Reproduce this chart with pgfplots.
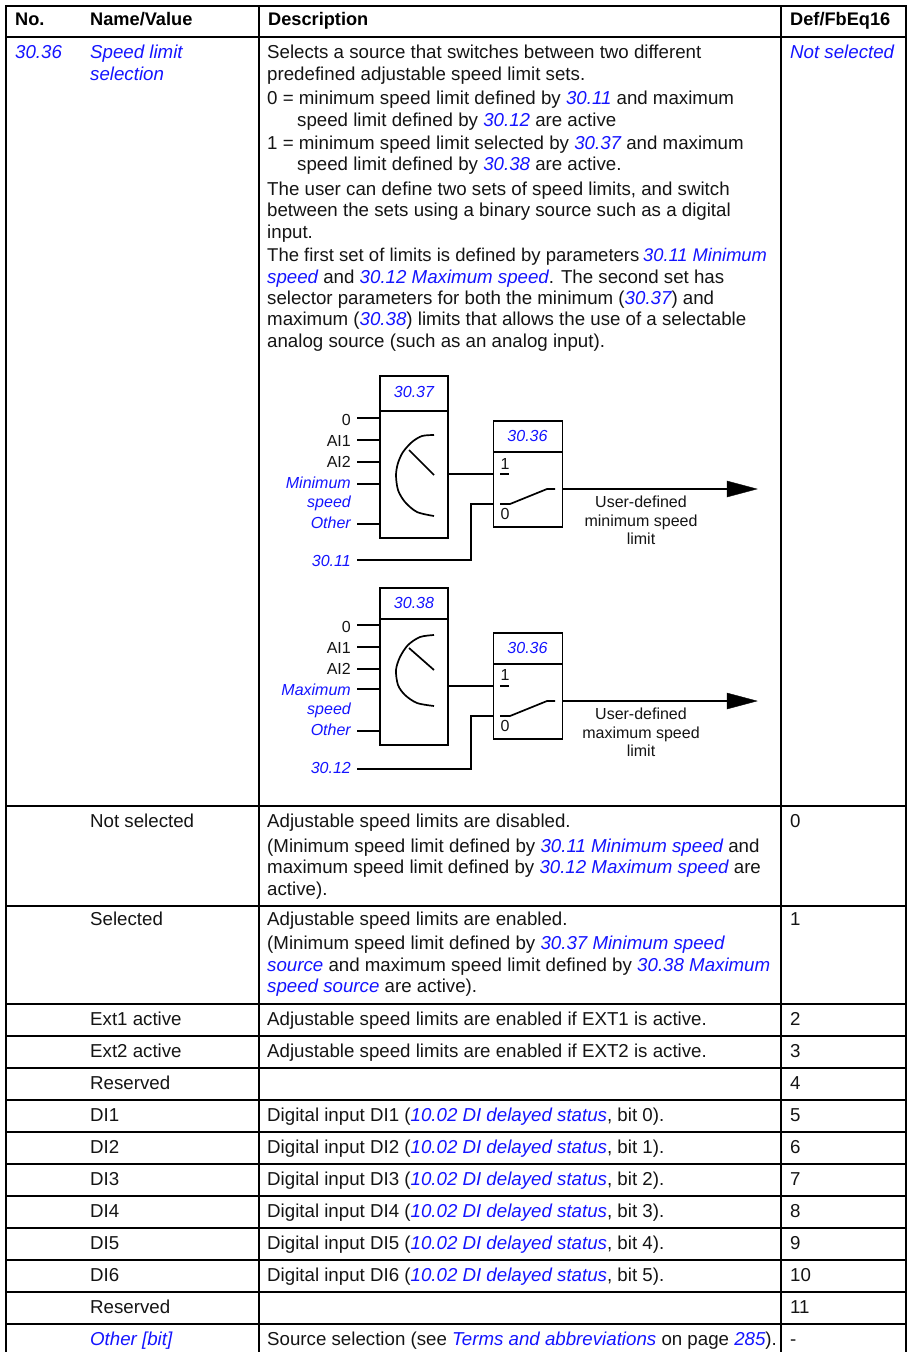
\documentclass[border=0pt]{standalone}
\usepackage{pgfplots}
\pgfplotsset{compat=1.18}
\usepackage{fontspec}
\setmainfont{Liberation Sans}
\definecolor{lk}{RGB}{20,20,255}
\definecolor{tx}{RGB}{20,20,20}
\newcommand\B[1]{\textcolor{lk}{\itshape #1}}
\newcommand\T[3]{\node[anchor=base west,inner sep=0pt,yshift=-0.3pt,font=\fontsize{18.7}{21}\selectfont,text=tx] at (axis cs:#1,#2) {#3};}
\newcommand\TS[4]{\node[anchor=base west,inner sep=0pt,yshift=-0.3pt,font=\fontsize{#1}{21}\selectfont,text=tx] at (axis cs:#2,#3) {#4};}
\newcommand\HB[3]{\node[anchor=base west,inner sep=0pt,yshift=0.5pt,font=\fontsize{18.2}{21}\selectfont\bfseries,text=black] at (axis cs:#1,#2) {#3};}
\newcommand\R[2]{\node[anchor=base east,inner sep=0pt,xshift=1pt,yshift=-0.3pt,font=\fontsize{16}{20}\selectfont,text=tx] at (axis cs:350,#1) {#2};}
\newcommand\C[3]{\node[anchor=base,inner sep=0pt,yshift=-0.3pt,font=\fontsize{16}{20}\selectfont,text=tx] at (axis cs:#1,#2) {#3};}
\newcommand\Ln[1]{\addplot[black,line width=2pt,line cap=rect,no marks] coordinates {#1};}
\newcommand\Th[1]{\addplot[black,line width=1.7pt,no marks] coordinates {#1};}
\begin{document}
\begin{tikzpicture}
\begin{axis}[width=909pt,height=1352pt,scale only axis,hide axis,clip=false,
  xmin=0,xmax=909,ymin=0,ymax=1352,y dir=reverse]
\path (axis cs:0,0) rectangle (axis cs:909,1352);
% table grid
\Ln{(6,6)(906,6)}
\Ln{(6,37)(906,37)}
\Ln{(6,6)(6,1351)}
\Ln{(259,6)(259,1351)}
\Ln{(781,6)(781,1351)}
\Ln{(906,6)(906,1351)}
\Ln{(6,806)(906,806)}
\Ln{(6,906)(906,906)}
\Ln{(6,1004)(906,1004)}
\Ln{(6,1036)(906,1036)}
\Ln{(6,1068)(906,1068)}
\Ln{(6,1100)(906,1100)}
\Ln{(6,1132)(906,1132)}
\Ln{(6,1164)(906,1164)}
\Ln{(6,1196)(906,1196)}
\Ln{(6,1228)(906,1228)}
\Ln{(6,1260)(906,1260)}
\Ln{(6,1292)(906,1292)}
\Ln{(6,1324)(906,1324)}
% header
\HB{15}{26}{No.}
\HB{90}{26}{Name/Value}
\HB{268}{26}{Description}
\HB{790}{26}{Def/FbEq16}
% first row
\T{15}{58}{\B{30.36}}
\T{90}{58}{\B{Speed limit}}
\T{90}{80}{\B{selection}}
\T{790}{58}{\B{Not selected}}
\T{267}{58}{Selects a source that switches between two different}
\T{267}{80}{predefined adjustable speed limit sets.}
\T{267}{104}{0 = minimum speed limit defined by \B{30.11} and maximum}
\T{297}{126}{speed limit defined by \B{30.12} are active}
\T{267}{149}{1 = minimum speed limit selected by \B{30.37} and maximum}
\T{297}{170}{speed limit defined by \B{30.38} are active.}
\T{267}{195}{The user can define two sets of speed limits, and switch}
\T{267}{216}{between the sets using a binary source such as a digital}
\T{267}{238}{input.}
\TS{18.5}{267}{261}{The first set of limits is defined by parameters}
\TS{18.3}{643}{261}{\B{30.11 Minimum}}
\T{267}{283}{\B{speed} and \B{30.12 Maximum speed}. The second set has}
\T{267}{304}{selector parameters for both the minimum (\B{30.37}) and}
\T{267}{325}{maximum (\B{30.38}) limits that allows the use of a selectable}
\T{267}{347}{analog source (such as an analog input).}
% diagram 1
\Th{(380,376)(448,376)(448,538)(380,538)(380,376)(448,376)}
\Th{(380,411)(448,411)}
\Th{(357,418)(380,418)}
\Th{(357,440)(380,440)}
\Th{(357,462)(380,462)}
\Th{(357,484)(380,484)}
\Th{(357,524)(380,524)}
\addplot[black,line width=1.7pt,smooth,no marks] coordinates {(434,435)(422,436)(412,442)(403,452)(398,463)(396,475)(398,490)(405,502)(417,512)(434,516)};
\Th{(409,450)(434,475)}
\Th{(448,474)(493.5,474)}
\Th{(493.5,421)(562.5,421)(562.5,527)(493.5,527)(493.5,421)(562.5,421)}
\Th{(493.5,452)(562.5,452)}
\Th{(500,474)(509,474)}
\Th{(500,504)(510,504)(547,489)(555,489)}
\Th{(562,489)(730,489)}
\addplot[black,fill=black,no marks] coordinates {(727,481)(757,489)(727,497)} -- cycle;
\Th{(357,560)(471,560)(471,504)(493,504)}
\R{425}{0}
\R{446}{AI1}
\R{467}{AI2}
\R{488}{\B{Minimum}}
\R{507}{\B{speed}}
\R{528}{\B{Other}}
\R{566}{\B{30.11}}
\C{414}{397}{\B{30.37}}
\C{527.5}{441}{\B{30.36}}
\C{505}{469}{1}
\C{505}{519}{0}
\C{641}{507}{User-defined}
\C{641}{526}{minimum speed}
\C{641}{544}{limit}
% diagram 2
\Th{(380,588)(448,588)(448,745)(380,745)(380,588)(448,588)}
\Th{(380,619)(448,619)}
\Th{(357,625)(380,625)}
\Th{(357,647)(380,647)}
\Th{(357,669)(380,669)}
\Th{(357,689)(380,689)}
\Th{(357,731)(380,731)}
\addplot[black,line width=1.7pt,smooth,no marks] coordinates {(434,635)(420,637)(408,645)(400,657)(396,670)(398,685)(405,695)(417,703)(434,706)};
\Th{(409,648)(434,670)}
\Th{(448,686)(493.5,686)}
\Th{(493.5,633)(562.5,633)(562.5,739)(493.5,739)(493.5,633)(562.5,633)}
\Th{(493.5,664)(562.5,664)}
\Th{(500,686)(509,686)}
\Th{(500,716)(510,716)(547,701)(555,701)}
\Th{(562,701)(730,701)}
\addplot[black,fill=black,no marks] coordinates {(727,693)(757,701)(727,709)} -- cycle;
\Th{(357,769)(471,769)(471,716)(493,716)}
\R{632}{0}
\R{653}{AI1}
\R{674}{AI2}
\R{695}{\B{Maximum}}
\R{714}{\B{speed}}
\R{735}{\B{Other}}
\R{773}{\B{30.12}}
\C{414}{608}{\B{30.38}}
\C{527.5}{653}{\B{30.36}}
\C{505}{680}{1}
\C{505}{731}{0}
\C{641}{719}{User-defined}
\C{641}{738}{maximum speed}
\C{641}{756}{limit}
% rows
\T{90}{827}{Not selected}
\T{267}{827}{Adjustable speed limits are disabled.}
\T{267}{852}{(Minimum speed limit defined by \B{30.11 Minimum speed} and}
\T{267}{873}{maximum speed limit defined by \B{30.12 Maximum speed} are}
\T{267}{895}{active).}
\T{790}{827}{0}
\T{90}{925}{Selected}
\T{267}{925}{Adjustable speed limits are enabled.}
\T{267}{949}{(Minimum speed limit defined by \B{30.37 Minimum speed}}
\T{267}{971}{\B{source} and maximum speed limit defined by \B{30.38 Maximum}}
\T{267}{992}{\B{speed source} are active).}
\T{790}{925}{1}
\T{90}{1025}{Ext1 active}
\T{267}{1025}{Adjustable speed limits are enabled if EXT1 is active.}
\T{790}{1025}{2}
\T{90}{1057}{Ext2 active}
\T{267}{1057}{Adjustable speed limits are enabled if EXT2 is active.}
\T{790}{1057}{3}
\T{90}{1089}{Reserved}
\T{790}{1089}{4}
\T{90}{1121}{DI1}
\T{267}{1121}{Digital input DI1 (\B{10.02 DI delayed status}, bit 0).}
\T{790}{1121}{5}
\T{90}{1153}{DI2}
\T{267}{1153}{Digital input DI2 (\B{10.02 DI delayed status}, bit 1).}
\T{790}{1153}{6}
\T{90}{1185}{DI3}
\T{267}{1185}{Digital input DI3 (\B{10.02 DI delayed status}, bit 2).}
\T{790}{1185}{7}
\T{90}{1217}{DI4}
\T{267}{1217}{Digital input DI4 (\B{10.02 DI delayed status}, bit 3).}
\T{790}{1217}{8}
\T{90}{1249}{DI5}
\T{267}{1249}{Digital input DI5 (\B{10.02 DI delayed status}, bit 4).}
\T{790}{1249}{9}
\T{90}{1281}{DI6}
\T{267}{1281}{Digital input DI6 (\B{10.02 DI delayed status}, bit 5).}
\T{790}{1281}{10}
\T{90}{1313}{Reserved}
\T{790}{1313}{11}
\T{90}{1345}{\B{Other [bit]}}
\T{267}{1345}{Source selection (see \B{Terms and abbreviations} on page \B{285}).}
\T{790}{1345}{-}
\end{axis}
\end{tikzpicture}
\end{document}
